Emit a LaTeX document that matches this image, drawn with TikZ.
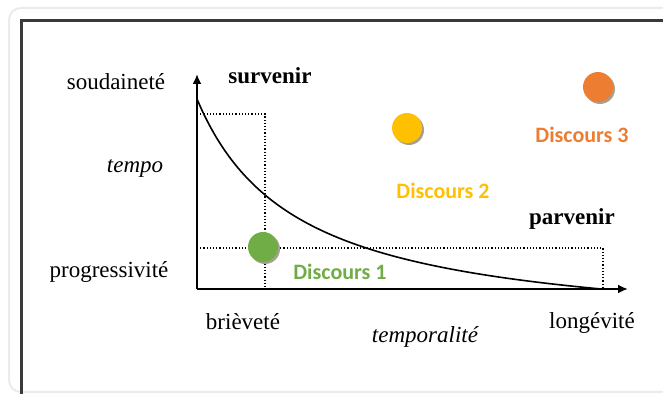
\documentclass[tikz,border=0pt]{standalone}
\usepackage{fontspec}
\setmainfont{Liberation Serif}
\newfontfamily\calibri{Carlito}
\usetikzlibrary{arrows.meta,positioning,shadows}
\definecolor{dgreen}{HTML}{70AD47}
\definecolor{dyellow}{HTML}{FFC000}
\definecolor{dorange}{HTML}{ED7D31}
\definecolor{framegray}{HTML}{3A3A3A}
\definecolor{shadowgray}{HTML}{A89F8C}

\begin{document}
\begin{tikzpicture}[
  x=0.5pt,
  y=-0.5pt,
  font=\fontsize{11.5}{13}\selectfont,
  axis/.style={-{Latex[length=5pt,width=4.5pt]}, line width=1pt},
  guide/.style={densely dotted, line width=0.6pt},
  dot/.style={circle, minimum size=15pt, inner sep=0pt, drop shadow={shadow xshift=1pt, shadow yshift=-1pt, fill=shadowgray, opacity=1}},
  disc/.style={font=\calibri\bfseries\fontsize{11}{13}\selectfont},
  verb/.style={font=\bfseries\fontsize{11.5}{13}\selectfont}
]
  \useasboundingbox (0,0) rectangle (663,394);
  \clip (0,0) rectangle (663,394);
  \draw[black!8, line width=1pt, rounded corners=6pt] (9,8) rectangle (700,392);
  \draw[framegray, line width=1.5pt] (21,420) -- (21,21) -- (700,21);

  \coordinate (origin) at (197,289);
  \coordinate (ytop) at (197,74);
  \coordinate (xend) at (628,289);
  \coordinate (hi) at (197,114);
  \coordinate (hicorner) at (265,114);
  \coordinate (hifoot) at (265,289);
  \coordinate (lo) at (197,248);
  \coordinate (locorner) at (603,248);
  \coordinate (lofoot) at (603,289);

  \draw[guide] (hi) -- (hicorner) -- (hifoot);
  \draw[guide] (lo) -- (locorner) -- (lofoot);
  \draw[line width=0.8pt] plot[domain=0:406, samples=100, smooth] ({197+\x},{289-237.03/((\x+100)/100)+47.03});
  \draw[axis] (origin) -- (ytop);
  \draw[axis] (origin) -- (xend);

  \node (soud) at (116,82) {soudaineté};
  \node (tempo) at (135,168) {\itshape tempo};
  \node (prog) at (109,272) {progressivité};
  \node[verb] (surv) at (270,76) {survenir};
  \node[verb] (parv) at (572,219) {parvenir};
  \node (brev) at (243,322) {brièveté};
  \node (tempor) at (425,337) {\itshape temporalité};
  \node (longe) at (592,323) {longévité};

  \foreach \name/\col/\px/\py in {d1/dgreen/263/247, d2/dyellow/407/128, d3/dorange/598/87}
    \node[dot, fill=\col] (\name) at (\px,\py) {};

  \node[disc, text=dgreen] (lab1) at (340,272) {Discours 1};
  \node[disc, text=dyellow] (lab2) at (443,191) {Discours 2};
  \node[disc, text=dorange] (lab3) at (582,135) {Discours 3};
\end{tikzpicture}
\end{document}
